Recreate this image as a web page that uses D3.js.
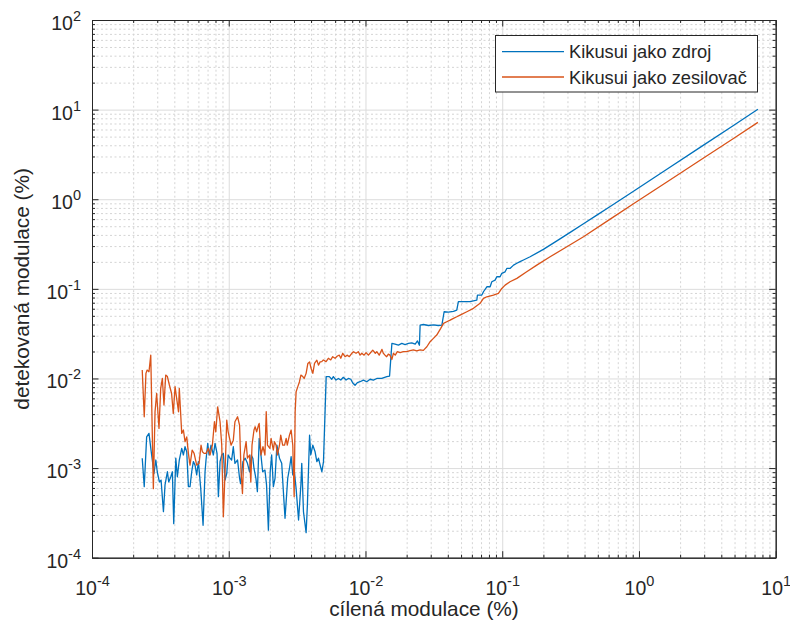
<!DOCTYPE html>
<html>
<head>
<meta charset="utf-8">
<script src="https://cdn.jsdelivr.net/npm/d3@7/dist/d3.min.js"></script>
<style>
  body { margin: 0; background: #ffffff; }
  svg { display: block; font-family: "Liberation Sans", Arial, Helvetica, sans-serif; }
</style>
</head>
<body>
<svg id="chart" width="790" height="629"></svg>
<script>
// ---- measured data (modulation depth in %) ----
const blueX = [
  2.33e-4,2.41e-4,2.51e-4,2.61e-4,2.73e-4,2.84e-4,2.93e-4,3.00e-4,3.11e-4,3.20e-4,
  3.33e-4,3.42e-4,3.56e-4,3.64e-4,3.77e-4,3.87e-4,3.96e-4,4.10e-4,4.21e-4,4.35e-4,
  4.53e-4,4.66e-4,4.79e-4,4.93e-4,5.07e-4,5.21e-4,5.36e-4,5.51e-4,5.67e-4,5.83e-4,
  6.00e-4,6.24e-4,6.49e-4,6.71e-4,6.82e-4,7.02e-4,7.18e-4,7.42e-4,7.72e-4,7.94e-4,
  8.21e-4,8.40e-4,8.64e-4,8.89e-4,9.13e-4,9.40e-4,9.67e-4,9.90e-4,
  1.02e-3,1.05e-3,1.08e-3,1.11e-3,1.16e-3,1.20e-3,1.22e-3,1.27e-3,1.32e-3,1.37e-3,
  1.42e-3,1.46e-3,1.50e-3,1.53e-3,1.58e-3,1.62e-3,1.67e-3,1.72e-3,1.77e-3,1.84e-3,
  1.89e-3,1.95e-3,2.01e-3,2.06e-3,2.12e-3,2.18e-3,2.25e-3,2.35e-3,2.44e-3,2.51e-3,
  2.58e-3,2.70e-3,2.78e-3,2.86e-3,2.94e-3,3.02e-3,3.11e-3,3.24e-3,3.37e-3,3.42e-3,
  3.52e-3,3.68e-3,3.76e-3,3.90e-3,3.98e-3,4.12e-3,4.28e-3,4.41e-3,4.53e-3,4.66e-3,
  4.80e-3,4.93e-3,
  5.16e-3,5.44e-3,5.67e-3,5.82e-3,6.09e-3,6.34e-3,6.60e-3,6.89e-3,7.21e-3,7.50e-3,
  7.81e-3,8.07e-3,8.39e-3,8.72e-3,9.13e-3,9.65e-3,1.022e-2,1.081e-2,1.142e-2,1.21e-2,
  1.316e-2,1.432e-2,1.50e-2,1.56e-2,1.646e-2,1.741e-2,1.843e-2,1.949e-2,2.06e-2,2.18e-2,
  2.31e-2,2.40e-2,2.48e-2,2.51e-2,2.65e-2,2.89e-2,3.14e-2,3.41e-2,3.62e-2,3.76e-2,
  4.04e-2,4.40e-2,4.65e-2,4.78e-2,5.81e-2,6.52e-2,6.59e-2,7.09e-2,7.29e-2,7.72e-2,
  8.16e-2,8.39e-2,8.87e-2,9.13e-2,9.65e-2,9.93e-2,0.105,0.108,0.114,0.121,
  0.128,0.135,0.143,0.160,0.200,0.251,0.314,0.393,0.492,0.616,
  0.912,1.60,2.80,4.91,7.41
];
const blueY = [
  1.29e-3,0.62e-3,2.23e-3,2.44e-3,1.40e-3,0.87e-3,1.23e-3,0.91e-3,0.70e-3,0.735e-3,
  0.326e-3,0.65e-3,0.91e-3,0.70e-3,0.80e-3,0.91e-3,0.24e-3,1.29e-3,0.80e-3,1.23e-3,
  1.66e-3,1.40e-3,1.73e-3,1.52e-3,0.62e-3,0.62e-3,0.91e-3,1.18e-3,1.08e-3,0.84e-3,
  1.18e-3,0.59e-3,0.23e-3,0.91e-3,1.23e-3,1.89e-3,1.40e-3,1.80e-3,1.40e-3,1.89e-3,
  1.46e-3,0.48e-3,1.18e-3,1.40e-3,1.46e-3,0.735e-3,0.87e-3,1.40e-3,
  1.29e-3,1.23e-3,1.73e-3,1.13e-3,1.23e-3,0.77e-3,0.67e-3,1.18e-3,1.29e-3,1.13e-3,
  0.91e-3,1.40e-3,1.29e-3,0.99e-3,0.77e-3,0.545e-3,2.14e-3,1.40e-3,0.91e-3,0.95e-3,
  0.65e-3,0.203e-3,0.91e-3,1.40e-3,0.62e-3,0.77e-3,1.80e-3,1.29e-3,1.13e-3,0.545e-3,
  0.275e-3,0.77e-3,0.99e-3,1.34e-3,0.84e-3,0.91e-3,0.59e-3,0.263e-3,0.65e-3,1.13e-3,
  0.326e-3,0.19e-3,0.387e-3,2.33e-3,1.40e-3,1.80e-3,1.52e-3,1.18e-3,1.29e-3,1.08e-3,
  0.91e-3,1.18e-3,
  1.05e-2,1.05e-2,0.98e-2,1.05e-2,0.96e-2,1.00e-2,0.96e-2,1.03e-2,0.96e-2,1.00e-2,
  0.98e-2,0.89e-2,0.84e-2,0.90e-2,0.92e-2,0.96e-2,0.92e-2,0.98e-2,0.96e-2,1.00e-2,
  1.00e-2,1.05e-2,1.064e-2,2.46e-2,2.42e-2,2.36e-2,2.46e-2,2.38e-2,2.46e-2,2.50e-2,
  2.42e-2,2.62e-2,2.35e-2,3.94e-2,4.00e-2,3.90e-2,3.96e-2,3.90e-2,3.94e-2,5.55e-2,
  5.50e-2,5.60e-2,5.80e-2,7.20e-2,7.20e-2,7.50e-2,8.53e-2,8.53e-2,9.28e-2,0.1055,
  0.1055,0.120,0.125,0.1365,0.1365,0.149,0.155,0.169,0.169,0.184,
  0.193,0.201,0.210,0.228,0.276,0.343,0.427,0.532,0.665,0.83,
  1.23,2.16,3.79,6.66,10.1
];

const orangeX = [
  2.33e-4,2.41e-4,2.48e-4,2.53e-4,2.61e-4,2.69e-4,2.81e-4,2.89e-4,2.97e-4,3.09e-4,
  3.18e-4,3.27e-4,3.36e-4,3.46e-4,3.56e-4,3.68e-4,3.82e-4,3.93e-4,4.05e-4,4.16e-4,
  4.29e-4,4.35e-4,4.53e-4,4.66e-4,4.79e-4,4.93e-4,5.07e-4,5.21e-4,5.40e-4,5.58e-4,
  5.83e-4,6.07e-4,6.27e-4,6.42e-4,6.60e-4,6.82e-4,7.10e-4,7.30e-4,7.59e-4,7.86e-4,
  8.04e-4,8.30e-4,8.64e-4,8.89e-4,9.13e-4,9.40e-4,9.67e-4,9.90e-4,1.04e-3,1.08e-3,
  1.11e-3,1.16e-3,1.20e-3,1.23e-3,1.26e-3,1.29e-3,1.34e-3,1.37e-3,1.42e-3,1.45e-3,
  1.48e-3,1.53e-3,1.56e-3,1.60e-3,1.65e-3,1.67e-3,1.72e-3,1.78e-3,1.84e-3,1.88e-3,
  1.92e-3,2.00e-3,2.04e-3,2.12e-3,2.16e-3,2.22e-3,2.27e-3,2.35e-3,2.40e-3,2.48e-3,
  2.56e-3,2.63e-3,2.68e-3,2.78e-3,2.86e-3,2.94e-3,3.01e-3,3.06e-3,3.11e-3,3.20e-3,
  3.29e-3,3.37e-3,3.48e-3,3.56e-3,3.68e-3,3.79e-3,3.90e-3,4.00e-3,4.12e-3,4.24e-3,
  4.41e-3,4.53e-3,4.66e-3,
  4.79e-3,4.92e-3,5.15e-3,5.35e-3,5.57e-3,5.76e-3,5.99e-3,6.23e-3,6.44e-3,6.60e-3,
  6.82e-3,7.09e-3,7.37e-3,7.62e-3,7.94e-3,8.16e-3,8.53e-3,8.87e-3,9.13e-3,9.40e-3,
  9.77e-3,1.01e-2,1.05e-2,1.08e-2,1.13e-2,1.18e-2,1.21e-2,1.26e-2,1.32e-2,1.35e-2,
  1.39e-2,1.43e-2,1.47e-2,1.51e-2,1.56e-2,1.60e-2,1.65e-2,1.71e-2,1.79e-2,1.89e-2,
  2.00e-2,2.12e-2,2.24e-2,2.37e-2,2.51e-2,2.65e-2,2.81e-2,2.97e-2,3.14e-2,3.32e-2,
  3.55e-2,3.72e-2,3.93e-2,4.16e-2,4.40e-2,4.65e-2,4.92e-2,5.51e-2,6.16e-2,
  0.0689,0.0729,0.0772,0.0862,0.0938,0.0993,0.105,0.114,0.128,0.151,
  0.179,0.224,0.297,0.393,0.616,0.912,1.60,2.80,4.91,7.41
];
const orangeY = [
  1.24e-2,3.74e-3,1.14e-2,1.24e-2,1.19e-2,1.82e-2,0.59e-3,4.25e-3,6.8e-3,2.77e-3,
  7.76e-3,1.00e-2,5.05e-3,1.09e-2,1.05e-2,8.45e-3,6.8e-3,4.08e-3,8.1e-3,6.0e-3,
  4.25e-3,7.76e-3,2.44e-3,2.66e-3,1.97e-3,2.23e-3,1.46e-3,1.08e-3,1.59e-3,1.46e-3,
  1.08e-3,1.13e-3,1.80e-3,1.52e-3,1.46e-3,1.46e-3,1.66e-3,1.40e-3,1.80e-3,3.29e-3,
  2.54e-3,4.83e-3,3.29e-3,1.80e-3,0.286e-3,0.91e-3,3.43e-3,2.54e-3,1.80e-3,2.05e-3,
  3.29e-3,3.74e-3,3.02e-3,0.91e-3,0.52e-3,1.40e-3,1.97e-3,1.29e-3,1.40e-3,0.70e-3,
  1.80e-3,2.66e-3,2.89e-3,2.54e-3,3.02e-3,3.15e-3,1.40e-3,1.73e-3,1.40e-3,4.25e-3,
  1.80e-3,1.66e-3,2.14e-3,1.59e-3,1.97e-3,1.80e-3,1.40e-3,1.80e-3,2.33e-3,1.80e-3,
  1.80e-3,2.14e-3,1.80e-3,2.33e-3,2.66e-3,1.80e-3,0.48e-3,4.25e-3,7.1e-3,8.1e-3,
  9.2e-3,1.09e-2,1.05e-2,1.00e-2,1.14e-2,1.47e-2,1.53e-2,1.30e-2,1.14e-2,1.47e-2,
  1.60e-2,1.41e-2,1.53e-2,
  1.54e-2,1.61e-2,1.54e-2,1.68e-2,1.61e-2,1.75e-2,1.68e-2,1.78e-2,1.82e-2,1.68e-2,
  1.91e-2,1.75e-2,1.82e-2,1.75e-2,1.91e-2,1.99e-2,1.91e-2,1.99e-2,1.82e-2,1.91e-2,
  1.82e-2,1.94e-2,1.82e-2,1.91e-2,2.07e-2,1.91e-2,1.99e-2,1.82e-2,2.11e-2,1.91e-2,
  1.82e-2,1.75e-2,1.87e-2,1.82e-2,1.63e-2,1.91e-2,1.82e-2,1.99e-2,1.94e-2,1.99e-2,
  1.99e-2,2.05e-2,2.09e-2,2.03e-2,2.08e-2,2.06e-2,2.26e-2,2.57e-2,2.80e-2,3.05e-2,
  3.62e-2,4.12e-2,4.29e-2,4.48e-2,4.69e-2,4.88e-2,5.10e-2,5.55e-2,6.06e-2,
  0.0689,0.0783,0.0816,0.0853,0.0891,0.101,0.110,0.120,0.131,0.155,
  0.184,0.228,0.295,0.382,0.60,0.89,1.56,2.72,4.77,7.2
];

const seriesNames = ["Kikusui jako zdroj", "Kikusui jako zesilovač"];
const seriesColors = ["#0072BD", "#D95319"];
const xTickExps = [-4, -3, -2, -1, 0, 1];
const yTickExps = [-4, -3, -2, -1, 0, 1, 2];
const xTitle = "cílená modulace (%)";
const yTitle = "detekovaná modulace (%)";

// ---- layout ----
const box = { left: 92, right: 775.7, top: 20, bottom: 557.7 };
const ink = "#262626";

const x = d3.scaleLog().domain([1e-4, 10]).range([box.left, box.right]);
const y = d3.scaleLog().domain([1e-4, 100]).range([box.bottom, box.top]);

const xMajor = xTickExps.map(e => Math.pow(10, e));
const yMajor = yTickExps.map(e => Math.pow(10, e));
const isMajor = v => Math.abs(Math.log10(v) - Math.round(Math.log10(v))) < 1e-9;
const xMinor = x.ticks().filter(v => !isMajor(v));
const yMinor = y.ticks().filter(v => !isMajor(v));

const svg = d3.select("#chart");
svg.append("rect").attr("width", 790).attr("height", 629).attr("fill", "#ffffff");

const W = box.right - box.left, H = box.bottom - box.top;

// ---- grid ----
const grid = svg.append("g");
function gridLines(axisFn, vals, size, dash, color, tf) {
  const gg = grid.append("g").attr("transform", tf)
    .call(axisFn.tickValues(vals).tickSize(size).tickFormat(""));
  gg.select(".domain").remove();
  gg.selectAll(".tick line").attr("stroke", color).attr("stroke-width", 1)
    .attr("stroke-dasharray", dash);
}
gridLines(d3.axisBottom(x), xMinor, -H, "2,2.5", "#d4d4d4", `translate(0,${box.bottom})`);
gridLines(d3.axisLeft(y), yMinor, -W, "2,2.5", "#d4d4d4", `translate(${box.left},0)`);
gridLines(d3.axisBottom(x), xMajor, -H, null, "#dcdcdc", `translate(0,${box.bottom})`);
gridLines(d3.axisLeft(y), yMajor, -W, null, "#dcdcdc", `translate(${box.left},0)`);

// ---- data lines ----
svg.append("clipPath").attr("id", "plotclip").append("rect")
  .attr("x", box.left).attr("y", box.top).attr("width", W).attr("height", H);
const line = d3.line().x(d => x(d[0])).y(d => y(d[1]));
const series = [d3.zip(blueX, blueY), d3.zip(orangeX, orangeY)];
series.forEach((s, i) => {
  svg.append("path").datum(s)
    .attr("clip-path", "url(#plotclip)")
    .attr("fill", "none")
    .attr("stroke", seriesColors[i])
    .attr("stroke-width", 1.3)
    .attr("stroke-linejoin", "round")
    .attr("d", line);
});

// ---- axes (ticks pointing inward, box on) ----
const axesG = svg.append("g");
function styleAxis(g) {
  g.selectAll(".domain").attr("stroke", ink).attr("stroke-width", 1);
  g.selectAll(".tick line").attr("stroke", ink).attr("stroke-width", 1);
}
function powerLabels(g, anchor, dxy) {
  g.selectAll(".tick text").each(function (d) {
    const e = Math.round(Math.log10(d));
    const t = d3.select(this).text(null)
      .attr("fill", ink).attr("font-size", 19.5)
      .attr("text-anchor", anchor)
      .attr("x", dxy[0]).attr("y", dxy[1]).attr("dy", null);
    t.append("tspan").text("10");
    t.append("tspan").attr("dy", -9).attr("font-size", 14.5).text(String(e));
  });
}
// bottom
axesG.append("g").attr("transform", `translate(0,${box.bottom})`)
  .call(d3.axisBottom(x).tickValues(xMinor).tickSizeInner(-3).tickSizeOuter(0).tickFormat(""))
  .call(styleAxis);
axesG.append("g").attr("transform", `translate(0,${box.bottom})`)
  .call(d3.axisBottom(x).tickValues(xMajor).tickSizeInner(-6.5).tickSizeOuter(0)
    .tickFormat(d => d))
  .call(styleAxis)
  .call(g => powerLabels(g, "middle", [0, 37]));
// top
axesG.append("g").attr("transform", `translate(0,${box.top})`)
  .call(d3.axisTop(x).tickValues(xMinor).tickSizeInner(-3).tickSizeOuter(0).tickFormat(""))
  .call(styleAxis);
axesG.append("g").attr("transform", `translate(0,${box.top})`)
  .call(d3.axisTop(x).tickValues(xMajor).tickSizeInner(-6.5).tickSizeOuter(0).tickFormat(""))
  .call(styleAxis);
// left
axesG.append("g").attr("transform", `translate(${box.left},0)`)
  .call(d3.axisLeft(y).tickValues(yMinor).tickSizeInner(-3).tickSizeOuter(0).tickFormat(""))
  .call(styleAxis);
axesG.append("g").attr("transform", `translate(${box.left},0)`)
  .call(d3.axisLeft(y).tickValues(yMajor).tickSizeInner(-6.5).tickSizeOuter(0)
    .tickFormat(d => d))
  .call(styleAxis)
  .call(g => powerLabels(g, "end", [-11, 9.5]));
// right
axesG.append("g").attr("transform", `translate(${box.right},0)`)
  .call(d3.axisRight(y).tickValues(yMinor).tickSizeInner(-3).tickSizeOuter(0).tickFormat(""))
  .call(styleAxis);
axesG.append("g").attr("transform", `translate(${box.right},0)`)
  .call(d3.axisRight(y).tickValues(yMajor).tickSizeInner(-6.5).tickSizeOuter(0).tickFormat(""))
  .call(styleAxis);

// ---- axis titles ----
svg.append("text")
  .attr("x", 424).attr("y", 616)
  .attr("text-anchor", "middle").attr("font-size", 20.8).attr("fill", ink)
  .text(xTitle);
svg.append("text")
  .attr("transform", `translate(29,${(box.top + box.bottom) / 2}) rotate(-90)`)
  .attr("text-anchor", "middle").attr("font-size", 20.8).attr("fill", ink)
  .text(yTitle);

// ---- legend ----
const leg = svg.append("g");
leg.append("rect")
  .attr("x", 495.5).attr("y", 35.5).attr("width", 262).attr("height", 56.5)
  .attr("fill", "#ffffff").attr("stroke", ink).attr("stroke-width", 1);
const rowY = [51.7, 77];
seriesNames.forEach((name, i) => {
  leg.append("line")
    .attr("x1", 502).attr("x2", 564).attr("y1", rowY[i]).attr("y2", rowY[i])
    .attr("stroke", seriesColors[i]).attr("stroke-width", 1.3);
  leg.append("text")
    .attr("x", 569).attr("y", rowY[i] + 6.5)
    .attr("font-size", 18.3).attr("fill", ink)
    .text(name);
});
</script>
</body>
</html>
